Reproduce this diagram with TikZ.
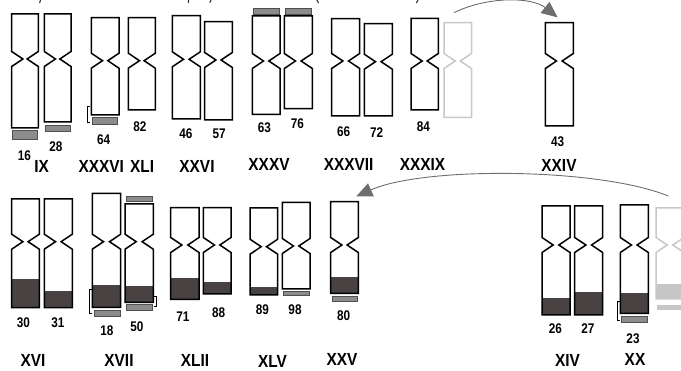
\documentclass[tikz,border=0pt]{standalone}
\usepackage{fontspec}
\setmainfont{Liberation Sans}
\newfontfamily\numfont{Liberation Sans}[FakeStretch=0.84]
\newfontfamily\romfont{Liberation Sans}[FakeStretch=0.88]
\usetikzlibrary{arrows.meta}

\definecolor{chrdark}{RGB}{72,66,66}
\definecolor{bargray}{RGB}{140,140,140}
\definecolor{barline}{RGB}{80,80,80}
\definecolor{ghost}{RGB}{200,200,200}
\definecolor{ghostfill}{RGB}{198,198,198}
\definecolor{arrowgray}{RGB}{110,110,110}

\tikzset{
  chrline/.style={draw=black,line width=1.5pt,line join=miter},
  ghostline/.style={draw=ghost,line width=1.5pt,line join=miter},
  darkpart/.style={fill=chrdark},
  lightpart/.style={fill=ghostfill},
  bandbar/.style={fill=bargray,draw=barline,line width=0.8pt},
  ghostbar/.style={fill=ghostfill},
  bracketline/.style={draw=black,line width=0.6pt},
  num/.style={inner sep=0pt,font=\numfont\bfseries\fontsize{14}{15}\selectfont},
  rom/.style={inner sep=0pt,font=\romfont\bfseries\fontsize{17.5}{18}\selectfont},
  swap/.style={draw=arrowgray,line width=0.9pt,-{Triangle[length=16pt,width=14pt]}},
  frag/.style={draw=black!80,line width=1.1pt}
}

% chromosome outline: style, left, right, top, centromere, bottom
\newcommand\chromo[6]{%
  \draw[#1] (#2,#4) -- (#3,#4) -- (#3,{#5-7.5}) -- ({#3-11.2},#5) -- (#3,{#5+7.5})
    -- (#3,#6) -- (#2,#6) -- (#2,{#5+7.5}) -- ({#2+11.2},#5) -- (#2,{#5-7.5}) -- cycle;}
% shaded arm segment: style, left, right, start, bottom
\newcommand\armfill[5]{\fill[#1] (#2,#4) rectangle (#3,#5);}
% marker bar: style, left, right, top, bottom
\newcommand\markbar[5]{\draw[#1] (#2,#4) rectangle (#3,#5);}

\begin{document}
\begin{tikzpicture}[x=1pt,y=-1pt]
\useasboundingbox (0,0) rectangle (681,371);
\begin{scope}
\clip (0,0) rectangle (681,371);

% remnants of a caption line above
\draw[frag] (40.5,0) -- (39.6,3);
\draw[frag] (188.6,0) -- (188.3,3);
\draw[frag] (211,0) -- (209.8,2.6);
\draw[frag] (316.8,0) .. controls (317.2,1.8) .. (318.6,3);
\draw[frag] (418,0) .. controls (417.6,1.6) .. (416.4,3);

% ---------------- upper row ----------------
\chromo{chrline}{11.7}{38.3}{14}{59}{128}
\markbar{bandbar}{12.7}{37.7}{130.7}{139.3}
\chromo{chrline}{44.3}{71}{14}{59}{122}
\markbar{bandbar}{45}{70.7}{125}{131}

\chromo{chrline}{91.3}{119}{17.7}{60.7}{115}
\markbar{bandbar}{92}{117.3}{117.7}{124.3}
\draw[bracketline] (90,106) -- (87.3,106) -- (87.3,122.7) -- (90,122.7);
\chromo{chrline}{128.3}{155.3}{17.7}{60.7}{110}

\chromo{chrline}{172.3}{200.3}{15.7}{59.3}{119}
\chromo{chrline}{204.7}{232.3}{21.7}{60}{120}

\markbar{bandbar}{253.3}{279.3}{8}{14}
\chromo{chrline}{252.3}{280}{16}{61}{114.3}
\markbar{bandbar}{285}{311.7}{8}{14}
\chromo{chrline}{284.3}{312.3}{16}{61}{108.7}

\chromo{chrline}{331.7}{359.7}{18.7}{61}{116}
\chromo{chrline}{364.3}{392.3}{23.7}{61.7}{116}

\chromo{chrline}{411}{438.3}{18.3}{61}{110}
\chromo{ghostline}{444}{471.5}{22.7}{61}{117.3}

\chromo{chrline}{545.3}{573.3}{22.7}{61}{126}

% ---------------- lower row ----------------
\armfill{darkpart}{11.7}{39.3}{279}{307.7}
\chromo{chrline}{11.7}{39.3}{199}{241.7}{307.7}
\armfill{darkpart}{44.3}{72.3}{290.7}{307.7}
\chromo{chrline}{44.3}{72.3}{199}{241.7}{307.7}

\armfill{darkpart}{92.3}{120.7}{285.3}{307.3}
\chromo{chrline}{92.3}{120.7}{193.3}{241.7}{307.3}
\draw[bracketline] (92,289.3) -- (89.3,289.3) -- (89.3,313.3) -- (92,313.3);
\markbar{bandbar}{94.3}{120}{310}{316}
\markbar{bandbar}{126.7}{152.3}{196}{201.3}
\armfill{darkpart}{125}{153.3}{285.7}{302.3}
\chromo{chrline}{125}{153.3}{204}{241.7}{302.3}
\draw[bracketline] (153.6,296.7) -- (156.3,296.7) -- (156.3,306.7) -- (153.6,306.7);
\markbar{bandbar}{126.7}{152.3}{304.7}{310}

\armfill{darkpart}{170.7}{199}{277.7}{299.3}
\chromo{chrline}{170.7}{199}{207.7}{245}{299.3}
\armfill{darkpart}{203.3}{231}{281.7}{294}
\chromo{chrline}{203.3}{231}{207.7}{245}{294}

\armfill{darkpart}{250}{277.7}{286.7}{295}
\chromo{chrline}{250}{277.7}{208}{246.7}{295}
\chromo{chrline}{282.3}{310}{202.3}{246}{289}
\markbar{bandbar}{283.3}{309.3}{291.7}{295.7}

\armfill{darkpart}{330.7}{358.3}{277.3}{293.3}
\chromo{chrline}{330.7}{358.3}{201.7}{245}{293.3}
\markbar{bandbar}{332}{357.7}{296}{301.7}

\armfill{darkpart}{542}{570}{297.7}{315}
\chromo{chrline}{542}{570}{206}{245}{315}
\armfill{darkpart}{574.7}{602.7}{292.3}{315}
\chromo{chrline}{574.7}{602.7}{206}{245}{315}

\armfill{darkpart}{620.3}{648.3}{293.3}{313.3}
\chromo{chrline}{620.3}{648.3}{205}{245}{313.3}
\draw[bracketline] (620.3,301.7) -- (617.7,301.7) -- (617.7,320) -- (620.3,320);
\markbar{bandbar}{621.7}{647.3}{316}{322.7}

\armfill{lightpart}{656}{684}{284}{299}
\chromo{ghostline}{656}{684}{208}{245}{299}
\fill[ghostbar] (657,305.5) rectangle (684,310.5);

% ---------------- translocation arrows ----------------
\coordinate (fromA) at (454,12.7);
\coordinate (toA) at (557.6,17.4);
\draw[swap] (fromA) .. controls (488,-4) and (532,-3) .. (toA);

\coordinate (fromB) at (668.3,196);
\coordinate (toB) at (356.3,196.3);
\draw[swap] (fromB) .. controls (600,168) and (425,166) .. (toB);
\end{scope}

% ---------------- numbers ----------------
\node[num] (n16) at (24.5,155.5) {16};
\node[num] (n28) at (55.8,146.7) {28};
\node[num] (n64) at (103.7,139.5) {64};
\node[num] (n82) at (140,126.7) {82};
\node[num] (n46) at (185.8,133.8) {46};
\node[num] (n57) at (219.2,133.8) {57};
\node[num] (n63) at (264.5,128) {63};
\node[num] (n76) at (297.5,123.7) {76};
\node[num] (n66) at (343.7,131.7) {66};
\node[num] (n72) at (376.7,132.5) {72};
\node[num] (n84) at (423.3,126.3) {84};
\node[num] (n43) at (557.7,141.7) {43};

\node[num] (n30) at (23.3,322.3) {30};
\node[num] (n31) at (57.8,322.3) {31};
\node[num] (n18) at (106.8,330.5) {18};
\node[num] (n50) at (137,326.7) {50};
\node[num] (n71) at (183,317) {71};
\node[num] (n88) at (218.7,312.5) {88};
\node[num] (n89) at (262.3,310) {89};
\node[num] (n98) at (295,310) {98};
\node[num] (n80) at (343.7,316) {80};
\node[num] (n26) at (555.3,328.3) {26};
\node[num] (n27) at (587.8,328.3) {27};
\node[num] (n23) at (633,338.3) {23};

% ---------------- group names ----------------
\node[rom] (gIX) at (41.7,166) {IX};
\node[rom] (gXXXVI) at (101.2,166) {XXXVI};
\node[rom] (gXLI) at (142.2,166) {XLI};
\node[rom] (gXXVI) at (197,166) {XXVI};
\node[rom] (gXXXV) at (269,164.2) {XXXV};
\node[rom] (gXXXVII) at (348.7,164.2) {XXXVII};
\node[rom] (gXXXIX) at (422.5,164.2) {XXXIX};
\node[rom] (gXXIV) at (559,165) {XXIV};

\node[rom] (gXVI) at (33,360) {XVI};
\node[rom] (gXVII) at (119,360) {XVII};
\node[rom] (gXLII) at (195,360) {XLII};
\node[rom] (gXLV) at (272.5,361) {XLV};
\node[rom] (gXXV) at (342,359) {XXV};
\node[rom] (gXIV) at (567.5,360) {XIV};
\node[rom] (gXX) at (635,359) {XX};
\end{tikzpicture}
\end{document}
